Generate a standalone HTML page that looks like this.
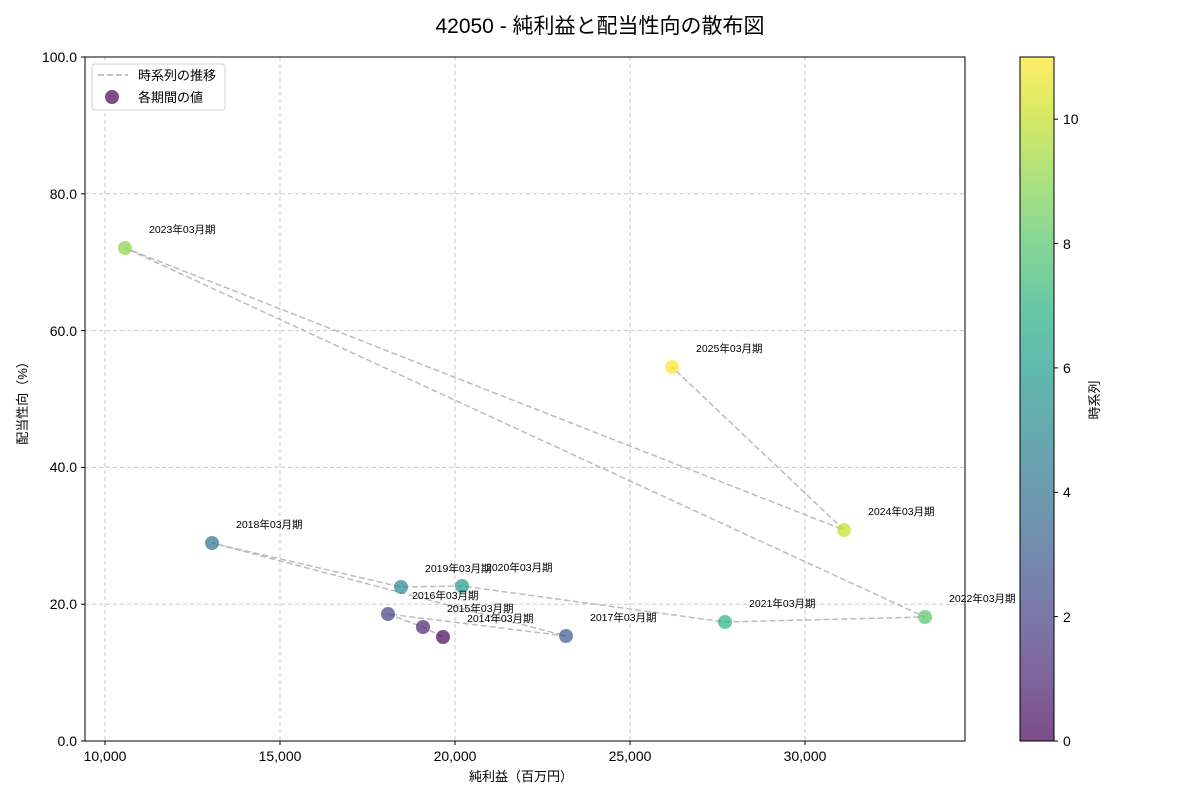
<!DOCTYPE html>
<html><head><meta charset="utf-8"><style>
body{margin:0;background:#fff;}
svg text{font-family:"Liberation Sans","Noto Sans CJK JP",sans-serif;}
</style></head><body>
<svg width="1200" height="800" xmlns="http://www.w3.org/2000/svg">
<defs>
<linearGradient id="vg" x1="0" y1="1" x2="0" y2="0">
<stop offset="0" stop-color="#440154"/><stop offset="0.091" stop-color="#482173"/><stop offset="0.182" stop-color="#433e85"/><stop offset="0.273" stop-color="#38598c"/><stop offset="0.364" stop-color="#2d708e"/><stop offset="0.455" stop-color="#25858e"/><stop offset="0.545" stop-color="#1e9b8a"/><stop offset="0.636" stop-color="#2ab07f"/><stop offset="0.727" stop-color="#52c569"/><stop offset="0.818" stop-color="#86d549"/><stop offset="0.909" stop-color="#c2df23"/><stop offset="1" stop-color="#fde725"/>
</linearGradient>
</defs>
<text x="600" y="33" font-size="21" text-anchor="middle" fill="#000">42050 - 純利益と配当性向の散布図</text>
<g stroke="#c8c8c8" stroke-dasharray="4,3" stroke-width="1">
<line x1="105" y1="57" x2="105" y2="741"/><line x1="280" y1="57" x2="280" y2="741"/><line x1="455" y1="57" x2="455" y2="741"/><line x1="630" y1="57" x2="630" y2="741"/><line x1="805" y1="57" x2="805" y2="741"/>
<line x1="85" y1="604.2" x2="965" y2="604.2"/><line x1="85" y1="467.4" x2="965" y2="467.4"/><line x1="85" y1="330.6" x2="965" y2="330.6"/><line x1="85" y1="193.8" x2="965" y2="193.8"/>
</g>
<polyline points="443,637 423,627 388,614 566,636 212,543 401,587 462,586 725,622 925,617 125,248 844,530 672,367" fill="none" stroke="#b0b0b0" stroke-width="1.5" stroke-dasharray="6,3" opacity="0.85"/>
<g fill-opacity="0.7">
<circle cx="443" cy="637" r="7" fill="#440154"/>
<circle cx="423" cy="627" r="7" fill="#482173"/>
<circle cx="388" cy="614" r="7" fill="#433e85"/>
<circle cx="566" cy="636" r="7" fill="#38598c"/>
<circle cx="212" cy="543" r="7" fill="#2d708e"/>
<circle cx="401" cy="587" r="7" fill="#25858e"/>
<circle cx="462" cy="586" r="7" fill="#1e9b8a"/>
<circle cx="725" cy="622" r="7" fill="#2ab07f"/>
<circle cx="925" cy="617" r="7" fill="#52c569"/>
<circle cx="125" cy="248" r="7" fill="#86d549"/>
<circle cx="844" cy="530" r="7" fill="#c2df23"/>
<circle cx="672" cy="367" r="7" fill="#fde725"/>
</g>
<g font-size="10.5" fill="#000">
<text x="467" y="622">2014年03月期</text>
<text x="447" y="612">2015年03月期</text>
<text x="412" y="599">2016年03月期</text>
<text x="590" y="621">2017年03月期</text>
<text x="236" y="528">2018年03月期</text>
<text x="425" y="572">2019年03月期</text>
<text x="486" y="571">2020年03月期</text>
<text x="749" y="607">2021年03月期</text>
<text x="949" y="602">2022年03月期</text>
<text x="149" y="233">2023年03月期</text>
<text x="868" y="515">2024年03月期</text>
<text x="696" y="352">2025年03月期</text>
</g>
<rect x="85" y="57" width="880" height="684" fill="none" stroke="#000" stroke-width="1"/>
<g stroke="#000">
<line x1="105" y1="741" x2="105" y2="745"/><line x1="280" y1="741" x2="280" y2="745"/><line x1="455" y1="741" x2="455" y2="745"/><line x1="630" y1="741" x2="630" y2="745"/><line x1="805" y1="741" x2="805" y2="745"/>
<line x1="81" y1="741" x2="85" y2="741"/><line x1="81" y1="604.2" x2="85" y2="604.2"/><line x1="81" y1="467.4" x2="85" y2="467.4"/><line x1="81" y1="330.6" x2="85" y2="330.6"/><line x1="81" y1="193.8" x2="85" y2="193.8"/><line x1="81" y1="57" x2="85" y2="57"/>
</g>
<g font-size="14" fill="#000" text-anchor="middle">
<text x="105" y="761">10,000</text><text x="280" y="761">15,000</text><text x="455" y="761">20,000</text><text x="630" y="761">25,000</text><text x="805" y="761">30,000</text>
</g>
<g font-size="14" fill="#000" text-anchor="end">
<text x="77" y="746">0.0</text><text x="77" y="609">20.0</text><text x="77" y="472">40.0</text><text x="77" y="336">60.0</text><text x="77" y="199">80.0</text><text x="77" y="62">100.0</text>
</g>
<text x="521" y="781" font-size="13" text-anchor="middle">純利益（百万円）</text>
<text transform="translate(27,400) rotate(-90)" font-size="13" text-anchor="middle">配当性向（%）</text>
<rect x="92" y="64" width="133" height="46" rx="3" fill="#fff" stroke="#d0d0d0"/>
<line x1="98" y1="75" x2="128" y2="75" stroke="#b0b0b0" stroke-width="1.5" stroke-dasharray="6,3"/>
<text x="138" y="80" font-size="13">時系列の推移</text>
<circle cx="112" cy="97" r="7" fill="#440154" fill-opacity="0.7"/>
<text x="138" y="102" font-size="13">各期間の値</text>
<rect x="1020" y="57" width="34" height="684" fill="#fff"/>
<rect x="1020" y="57" width="34" height="684" fill="url(#vg)" fill-opacity="0.7"/>
<rect x="1020" y="57" width="34" height="684" fill="none" stroke="#000"/>
<g stroke="#000">
<line x1="1054" y1="741" x2="1058" y2="741"/><line x1="1054" y1="616.6" x2="1058" y2="616.6"/><line x1="1054" y1="492.3" x2="1058" y2="492.3"/><line x1="1054" y1="367.9" x2="1058" y2="367.9"/><line x1="1054" y1="243.5" x2="1058" y2="243.5"/><line x1="1054" y1="119.2" x2="1058" y2="119.2"/>
</g>
<g font-size="14">
<text x="1063" y="746">0</text><text x="1063" y="622">2</text><text x="1063" y="497">4</text><text x="1063" y="373">6</text><text x="1063" y="249">8</text><text x="1063" y="124">10</text>
</g>
<text transform="translate(1099,400) rotate(-90)" font-size="13" text-anchor="middle">時系列</text>
</svg>
</body></html>
